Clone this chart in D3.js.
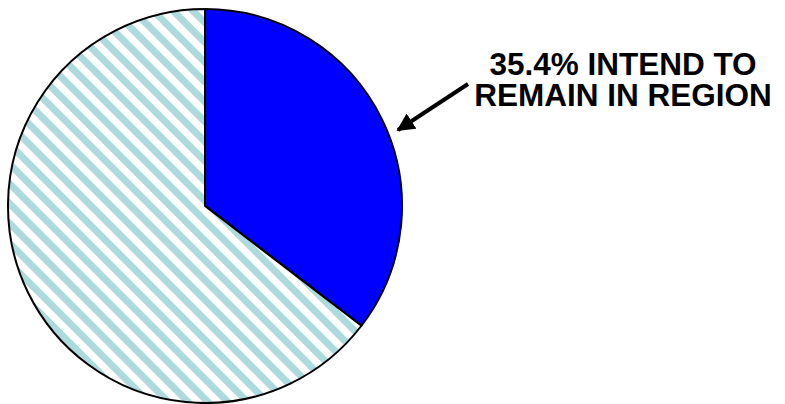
<!DOCTYPE html>
<html>
<head>
  <meta charset="utf-8">
  <title>Intend to remain in region</title>
  <style>
    html, body { margin: 0; padding: 0; background: #fff; }
    #chart { width: 785px; height: 404px; }
  </style>
</head>
<body>
  <div id="chart"></div>

  <script src="https://d3js.org/d3.v7.min.js"></script>
  <script>
    // Data
    const categories = ["Intend to remain in region", "Other"];
    const values = [35.4, 64.6];
    const labelLines = ["35.4% INTEND TO", "REMAIN IN REGION"];

    const width = 785, height = 404;
    const cx = 205, cy = 206, radius = 197;

    const svg = d3.select("#chart")
      .append("svg")
      .attr("width", width)
      .attr("height", height)
      .attr("viewBox", [0, 0, width, height]);

    // diagonal stripe pattern for the larger slice (running top-left to bottom-right)
    const defs = svg.append("defs");
    const pat = defs.append("pattern")
      .attr("id", "stripes")
      .attr("patternUnits", "userSpaceOnUse")
      .attr("width", 14)
      .attr("height", 14)
      .attr("patternTransform", "rotate(-45)");
    pat.append("rect")
      .attr("width", 14).attr("height", 14)
      .attr("fill", "#fff");
    pat.append("rect")
      .attr("x", 0).attr("width", 7).attr("height", 14)
      .attr("fill", "#acdadd");

    const pie = d3.pie().sort(null).value(d => d.value);
    const arc = d3.arc().innerRadius(0).outerRadius(radius);

    const data = categories.map((c, i) => ({ name: c, value: values[i] }));
    const fills = ["#0000ff", "url(#stripes)"];

    const g = svg.append("g")
      .attr("transform", `translate(${cx},${cy})`);

    g.selectAll("path")
      .data(pie(data))
      .enter()
      .append("path")
      .attr("d", arc)
      .attr("fill", (d, i) => fills[i])
      .attr("stroke", "#000")
      .attr("stroke-width", 2)
      .attr("stroke-linejoin", "round");

    // callout arrow
    defs.append("marker")
      .attr("id", "head")
      .attr("viewBox", "0 0 10 10")
      .attr("refX", 9)
      .attr("refY", 5)
      .attr("markerWidth", 4.5)
      .attr("markerHeight", 4.5)
      .attr("markerUnits", "strokeWidth")
      .attr("orient", "auto")
      .append("path")
      .attr("d", "M0,0 L10,5 L0,10 Z")
      .attr("fill", "#000");

    svg.append("line")
      .attr("x1", 468).attr("y1", 84)
      .attr("x2", 398).attr("y2", 130)
      .attr("stroke", "#000")
      .attr("stroke-width", 4)
      .attr("marker-end", "url(#head)");

    svg.append("text")
      .attr("x", 623)
      .attr("y", 75)
      .attr("text-anchor", "middle")
      .style("font-family", "'Liberation Sans', Arial, sans-serif")
      .style("font-weight", "bold")
      .style("font-size", "31.5px")
      .selectAll("tspan")
      .data(labelLines)
      .enter()
      .append("tspan")
      .attr("x", 623)
      .attr("dy", (d, i) => i === 0 ? 0 : 31)
      .text(d => d);
  </script>
</body>
</html>
